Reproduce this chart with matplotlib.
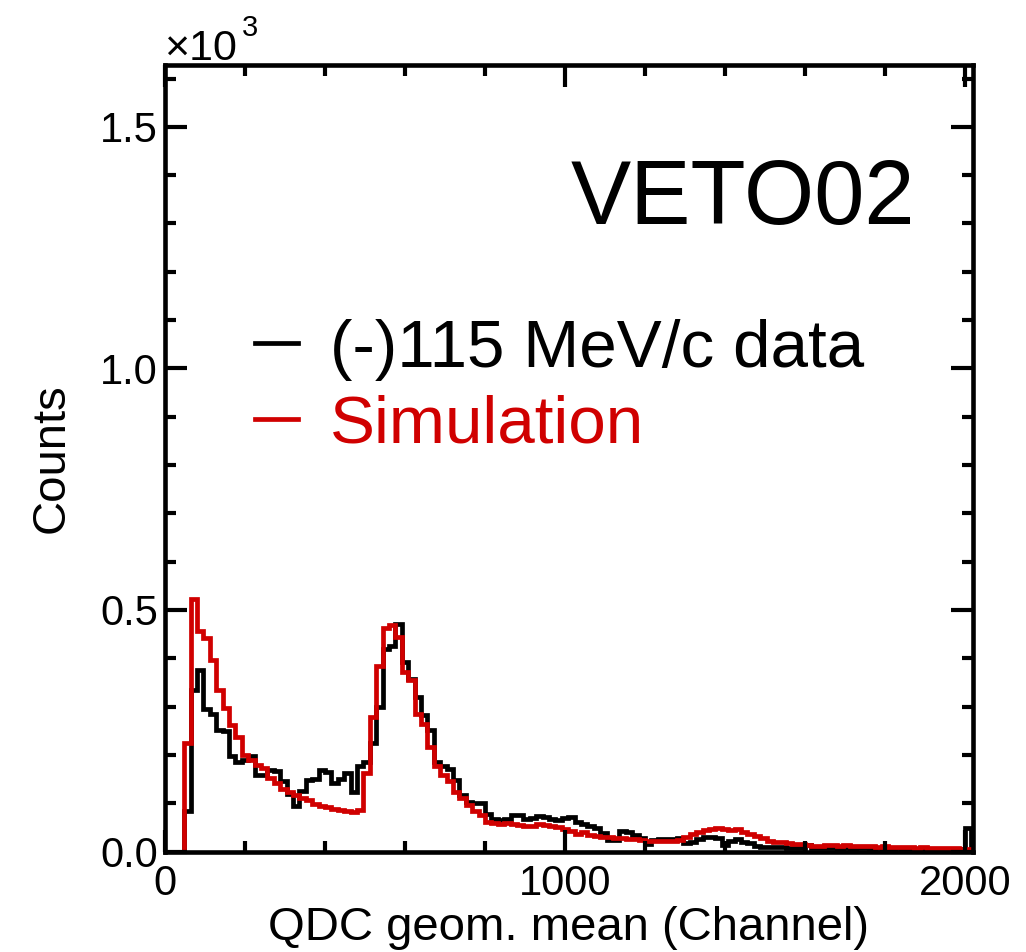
import numpy as np
import matplotlib
matplotlib.use("Agg")
import matplotlib.pyplot as plt
from matplotlib.lines import Line2D
from matplotlib.ticker import MultipleLocator, FixedLocator, FixedFormatter

plt.rcParams['font.family'] = ['Liberation Sans', 'DejaVu Sans']

# ---------------- data ----------------
bin_width = 16
n_bins = 126
edges = np.arange(n_bins + 1) * bin_width

data_counts = [
    0, 0, 0, 83, 335, 376, 295, 285, 252, 250,
    197, 186, 190, 197, 159, 159, 169, 166, 145, 120,
    94, 125, 148, 150, 168, 165, 141, 150, 162, 124,
    176, 185, 225, 300, 420, 425, 470, 392, 357, 320,
    283, 252, 186, 176, 170, 148, 117, 103, 101, 100,
    77, 67, 65, 68, 76, 75, 68, 70, 74, 72,
    68, 66, 69, 72, 62, 56, 52, 48, 38, 24,
    24, 42, 41, 34, 28, 15, 24, 26, 25, 26,
    27, 18, 20, 25, 30, 31, 27, 14, 22, 25,
    19, 17, 11, 10, 10, 9, 9, 7, 7, 8,
    14, 7, 8, 7, 8, 6, 7, 6, 7, 8,
    6, 7, 6, 5, 7, 6, 5, 6, 5, 6,
    5, 6, 5, 5, 6, 48,
]

sim_counts = [
    0, 0, 0, 224, 523, 456, 442, 397, 335, 297,
    262, 238, 200, 190, 179, 172, 152, 141, 130, 124,
    116, 111, 107, 98, 94, 92, 87, 85, 83, 82,
    86, 163, 279, 385, 462, 468, 445, 372, 354, 285,
    264, 217, 176, 159, 145, 124, 110, 96, 83, 76,
    62, 58, 56, 58, 56, 55, 53, 52, 56, 54,
    53, 50, 46, 42, 36, 40, 35, 33, 31, 29,
    27, 27, 26, 25, 23, 22, 22, 22, 22, 22,
    24, 31, 36, 41, 45, 47, 48, 46, 44, 46,
    41, 37, 33, 28, 22, 20, 19, 17, 16, 16,
    13, 12, 12, 13, 14, 12, 13, 12, 11, 12,
    11, 10, 11, 10, 9, 10, 9, 8, 9, 8,
    7, 8, 7, 7, 6, 6,
]

labels = ["(-)115 MeV/c data", "Simulation"]
x_ticks = [0, 1000, 2000]
x_ticklabels = ["0", "1000", "2000"]
y_ticks = [0, 500, 1000, 1500]
y_ticklabels = ["0.0", "0.5", "1.0", "1.5"]

RED = "#d00000"

# ---------------- figure ----------------
W, H = 1026, 952
fig = plt.figure(figsize=(W / 100, H / 100), dpi=100)
ax_l, ax_r, ax_b, ax_t = 165, 973, 851.5, 65
ax = fig.add_axes([ax_l / W, 1 - ax_b / H, (ax_r - ax_l) / W, (ax_b - ax_t) / H])

ax.stairs(data_counts, edges, color="black", lw=3.4, baseline=0)
ax.stairs(sim_counts, edges, color=RED, lw=3.4, baseline=0)

ax.set_xlim(0, 2020)
ax.set_ylim(0, 1628)

for s in ax.spines.values():
    s.set_linewidth(3.3)

ax.xaxis.set_major_locator(FixedLocator(x_ticks))
ax.xaxis.set_major_formatter(FixedFormatter(x_ticklabels))
ax.xaxis.set_minor_locator(MultipleLocator(200))
ax.yaxis.set_major_locator(FixedLocator(y_ticks))
ax.yaxis.set_major_formatter(FixedFormatter(y_ticklabels))
ax.yaxis.set_minor_locator(MultipleLocator(100))

ax.tick_params(which="both", direction="in", top=True, right=True, width=3.0)
ax.tick_params(which="major", length=15.8, labelsize=30)
ax.tick_params(which="minor", length=7.9)
ax.tick_params(axis="x", which="major", pad=9)
ax.tick_params(axis="y", which="major", pad=5)

ax.set_xlabel("QDC geom. mean (Channel)", fontsize=34)
ax.xaxis.label.set_va("top")
ax.xaxis.set_label_coords(0.5, (ax_b - 906) / (ax_b - ax_t))
ax.set_ylabel("Counts", fontsize=34)
ax.yaxis.label.set_va("center")
ax.yaxis.set_label_coords((52 - ax_l) / (ax_r - ax_l), 0.5)

# exponent marker
fig.text(164 / W, 1 - 60 / H, "\u00d710", fontsize=31, ha="left", va="baseline")
fig.text(242 / W, 1 - 36 / H, "3", fontsize=21, ha="left", va="baseline")

# big label
ax.text((915 - ax_l) / (ax_r - ax_l), (ax_b - 224) / (ax_b - ax_t), "VETO02",
        transform=ax.transAxes, fontsize=65, ha="right", va="baseline")

handles = [Line2D([], [], color="black", lw=3.4), Line2D([], [], color=RED, lw=3.4)]
ax.legend(handles, labels, loc="upper left",
          bbox_to_anchor=((255 - ax_l) / (ax_r - ax_l), (ax_b - 319) / (ax_b - ax_t)),
          frameon=False, fontsize=48.5, handlelength=0.64, handletextpad=0.47,
          labelspacing=0.2, borderpad=0, borderaxespad=0,
          labelcolor=["black", RED])

fig.savefig("out.png", dpi=100)
